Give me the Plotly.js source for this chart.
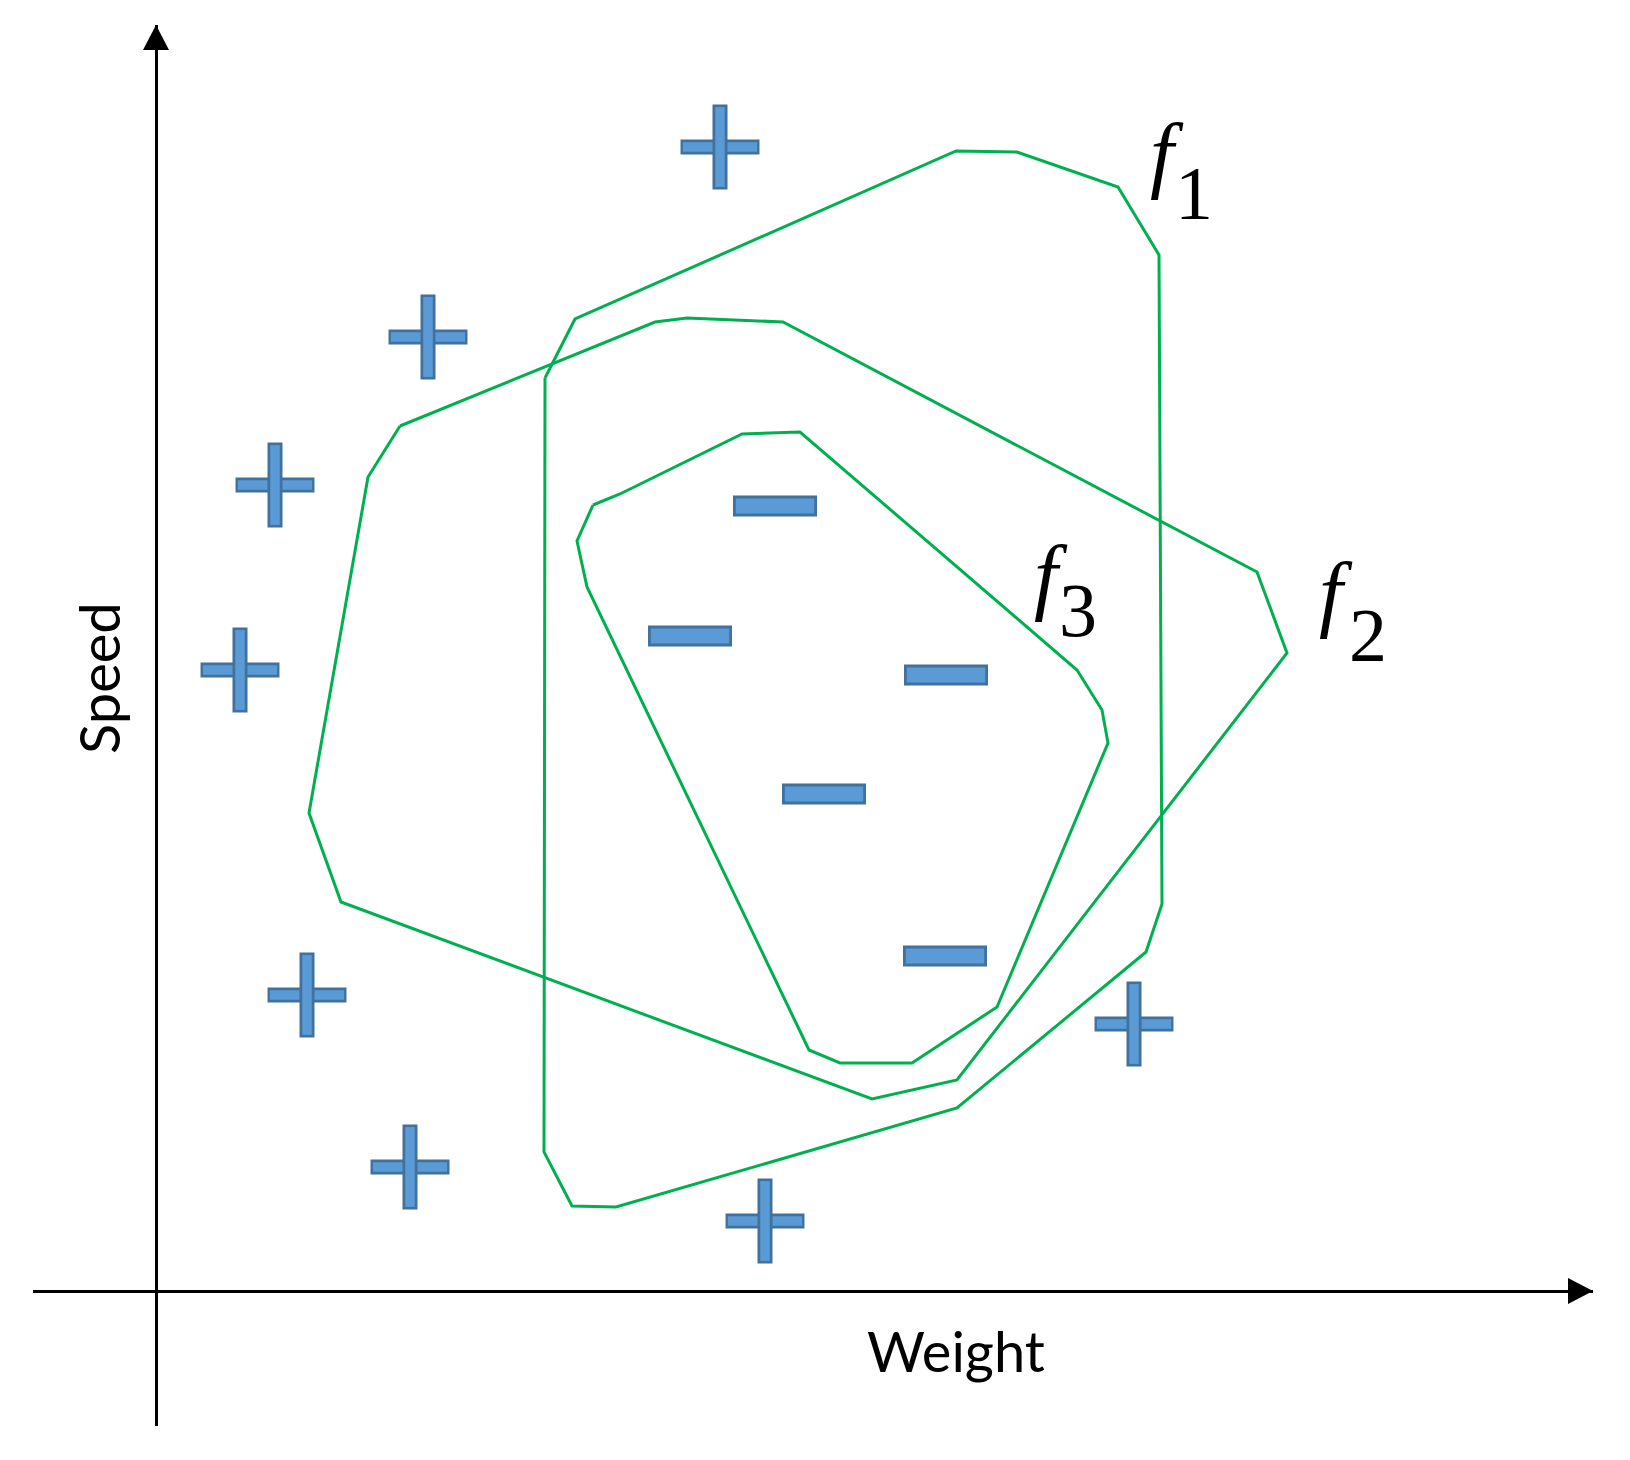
<!DOCTYPE html>
<html>
<head>
<meta charset="utf-8">
<script src="https://cdn.plot.ly/plotly-3.0.1.min.js"></script>
<style>
  html, body { margin: 0; padding: 0; background: #ffffff; }
  #chart { width: 1630px; height: 1460px; }
</style>
</head>
<body>
<div id="chart"></div>
<script>
// ---------- data (axis units: origin at the axes crossing) ----------
const f1X = [38.9, 41.9, 80.0, 86.1, 96.2, 100.3, 100.6, 99.0, 80.1, 46.0, 41.6, 38.8, 38.9];
const f1Y = [91.3, 97.2, 114.0, 113.9, 110.4, 103.6, 38.7, 33.9, 18.3, 8.4, 8.5, 13.9, 91.3];

const f2X = [24.4, 21.2, 15.3, 18.5, 71.6, 80.1, 113.1, 110.1, 62.7, 53.1, 49.9, 24.4];
const f2Y = [86.5, 81.4, 47.8, 38.9, 19.2, 21.1, 63.8, 71.9, 96.9, 97.3, 96.9, 86.5];

const f3X = [43.7, 46.4, 58.6, 64.4, 92.1, 94.6, 95.2, 84.1, 75.6, 68.4, 65.3, 43.1, 42.1, 43.7];
const f3Y = [78.6, 79.7, 85.7, 85.9, 62.1, 58.1, 54.8, 28.4, 22.8, 22.8, 24.1, 70.4, 75.0, 78.6];

const plusX = [56.4, 27.2, 11.9, 8.4, 15.1, 25.4, 60.9, 97.8];
const plusY = [114.4, 95.4, 80.6, 62.1, 29.6, 12.4, 7.0, 26.7];

const minusX = [61.9, 53.4, 79.0, 66.8, 78.9];
const minusY = [78.5, 65.5, 61.6, 49.7, 33.5];

const labelNames = ['1', '2', '3'];
const xTitle = 'Weight';
const yTitle = 'Speed';

// ---------- styling ----------
const X_RANGE = [-12.3, 143.7];
const Y_RANGE = [-13.5, 126.6];
const GREEN = '#00B050';
const BLUE_LIGHT = '#5B9BD5';
const BLUE_DARK = '#41719C';

function poly(x, y, name) {
  return { type: 'scatter', mode: 'lines', x: x, y: y, name: name,
           line: { color: GREEN, width: 3 }, hoverinfo: 'skip' };
}
function sym(x, y, symbol, size, width, color) {
  return { type: 'scatter', mode: 'markers', x: x, y: y, hoverinfo: 'skip',
           marker: { symbol: symbol, size: size, color: color,
                     line: { color: color, width: width } } };
}

const traces = [
  poly(f1X, f1Y, 'f1'),
  poly(f2X, f2Y, 'f2'),
  poly(f3X, f3Y, 'f3'),
  // minus signs
  sym(minusX, minusY, 'line-ew', 60, 21, BLUE_DARK),
  sym(minusX, minusY, 'line-ew', 56, 15, BLUE_LIGHT),
  // plus signs
  sym(plusX, plusY, 'line-ew', 56.4, 15, BLUE_DARK),
  sym(plusX, plusY, 'line-ew', 53, 9.5, BLUE_LIGHT),
  sym(plusX, plusY, 'line-ns', 60.7, 15, BLUE_DARK),
  sym(plusX, plusY, 'line-ns', 57, 9.5, BLUE_LIGHT)
];

// arrowheads derived from the axis ranges
const tipY = Y_RANGE[1], tipX = X_RANGE[1];
const headLen = 2.5, headHalf = 1.3;
const shapes = [
  { type: 'path', xref: 'x', yref: 'y', fillcolor: '#000', line: { width: 0 },
    path: `M ${-headHalf},${tipY - headLen} L 0,${tipY} L ${headHalf},${tipY - headLen} Z` },
  { type: 'path', xref: 'x', yref: 'y', fillcolor: '#000', line: { width: 0 },
    path: `M ${tipX - headLen},${-headHalf} L ${tipX},0 L ${tipX - headLen},${headHalf} Z` }
];

const fFont = { family: 'Liberation Serif', size: 85, color: '#000' };
const dFont = { family: 'Liberation Serif', size: 76, color: '#000' };
const fPos = [[101.1, 113.8], [118.0, 69.9], [89.5, 71.6]];
const dPos = [[103.8, 109.8], [121.2, 65.6], [92.2, 68.1]];

const annotations = [];
labelNames.forEach((n, i) => {
  annotations.push({ x: fPos[i][0], y: fPos[i][1], xref: 'x', yref: 'y', text: '<i>f</i>',
    showarrow: false, font: fFont, xanchor: 'center', yanchor: 'middle' });
  annotations.push({ x: dPos[i][0], y: dPos[i][1], xref: 'x', yref: 'y', text: n,
    showarrow: false, font: dFont, xanchor: 'center', yanchor: 'middle' });
});
annotations.push({ x: 80.0, y: -5.9, xref: 'x', yref: 'y', text: xTitle, showarrow: false,
  font: { family: 'Lato', size: 56, color: '#000' }, xanchor: 'center', yanchor: 'middle' });
annotations.push({ x: -5.8, y: 61.3, xref: 'x', yref: 'y', text: yTitle, showarrow: false,
  textangle: -90, font: { family: 'Lato', size: 56, color: '#000' },
  xanchor: 'center', yanchor: 'middle' });

const axisCommon = {
  showgrid: false, showticklabels: false, ticks: '', showline: false,
  zeroline: true, zerolinecolor: '#000', zerolinewidth: 3, fixedrange: true
};

const layout = {
  width: 1630, height: 1460,
  margin: { l: 33, r: 37, t: 25, b: 34, pad: 0 },
  paper_bgcolor: '#ffffff', plot_bgcolor: '#ffffff',
  showlegend: false,
  xaxis: Object.assign({ range: X_RANGE }, axisCommon),
  yaxis: Object.assign({ range: Y_RANGE }, axisCommon),
  shapes: shapes,
  annotations: annotations
};

Plotly.newPlot('chart', traces, layout, { displayModeBar: false, staticPlot: true });
</script>
</body>
</html>
